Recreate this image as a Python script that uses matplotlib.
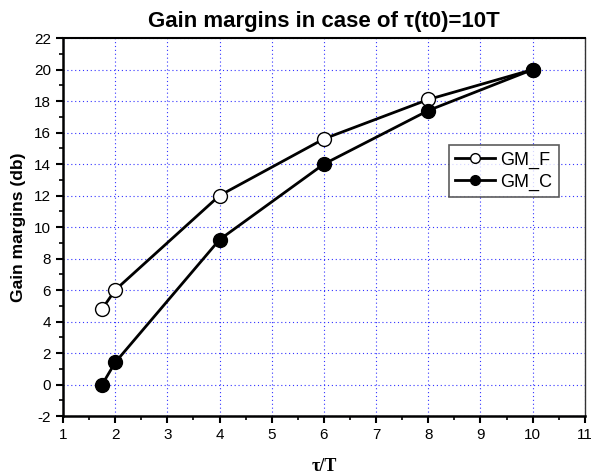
import numpy as np
import matplotlib
matplotlib.use("Agg")
import matplotlib.pyplot as plt
from matplotlib.ticker import MultipleLocator

plt.rcParams['font.family'] = ['Liberation Sans', 'DejaVu Sans']
plt.rcParams['axes.unicode_minus'] = False

x_f = [1.75, 2, 4, 6, 8, 10]
gm_f = [4.8, 6.0, 12.0, 15.6, 18.1, 20.0]
x_c = [1.75, 2, 4, 6, 8, 10]
gm_c = [0.0, 1.4, 9.2, 14.0, 17.4, 20.0]

fig = plt.figure(figsize=(5.91, 4.76), dpi=100)
ax = fig.add_axes([0.1066, 0.126, 0.883, 0.794])

ax.plot(x_f, gm_f, '-o', color='black', lw=2, markersize=10,
        markerfacecolor='white', markeredgecolor='black', markeredgewidth=1, label='GM_F', zorder=3)
ax.plot(x_c, gm_c, '-o', color='black', lw=2, markersize=10,
        markerfacecolor='black', markeredgecolor='black', label='GM_C', zorder=3)

ax.set_xlim(1, 11)
ax.set_ylim(-2, 22)
ax.xaxis.set_major_locator(MultipleLocator(1))
ax.xaxis.set_minor_locator(MultipleLocator(0.5))
ax.yaxis.set_major_locator(MultipleLocator(2))
ax.yaxis.set_minor_locator(MultipleLocator(1))
ax.grid(True, which='major', color='#3333ff', linestyle=(0, (1, 2.5)), lw=0.8)
ax.tick_params(which='major', direction='out', length=5, width=1.5, labelsize=11)
ax.tick_params(which='minor', direction='out', length=3, width=1.2)
ax.spines['left'].set_linewidth(1.8)
ax.spines['bottom'].set_linewidth(1.8)
ax.spines['top'].set_linewidth(1.5)
ax.spines['right'].set_linewidth(1.0)
ax.spines['right'].set_color('#333333')

ax.set_title('Gain margins in case of τ(t0)=10T', fontsize=16, fontweight='bold', pad=8)
ax.set_ylabel('Gain margins (db)', fontsize=12.5, fontweight='bold', labelpad=6)
ax.set_xlabel('τ/T', fontsize=13, fontweight='bold', family='Liberation Serif', labelpad=12)

leg = ax.legend(loc='upper left', bbox_to_anchor=(0.722, 0.74), fontsize=13, frameon=True,
                fancybox=False, edgecolor='#333333', handlelength=2.2, borderpad=0.35,
                labelspacing=0.25, handletextpad=0.3, markerscale=0.7)
leg.get_frame().set_linewidth(1.2)

fig.savefig('out.png', dpi=100)
